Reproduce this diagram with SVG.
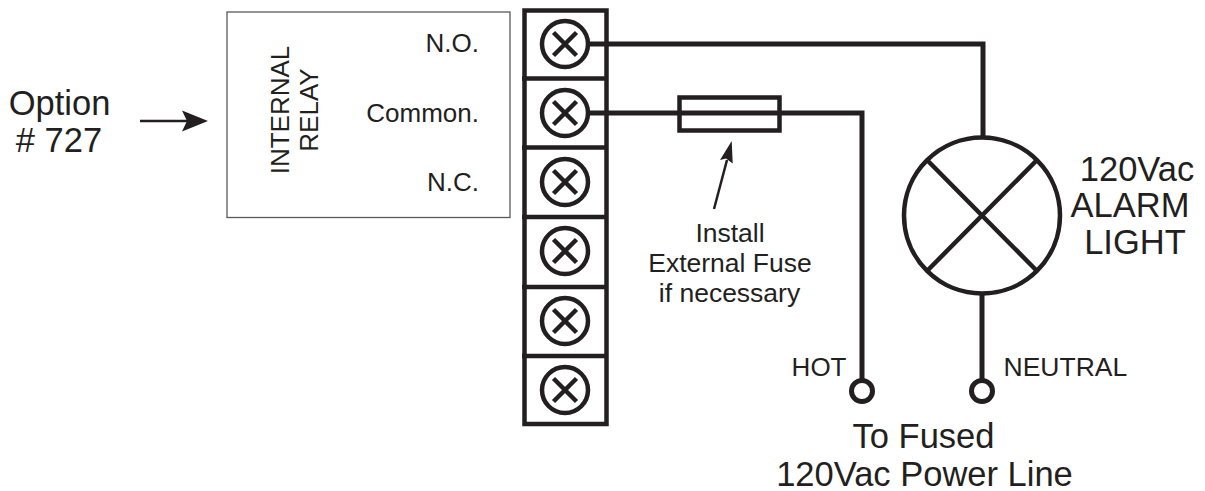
<svg xmlns="http://www.w3.org/2000/svg" width="1205" height="491" viewBox="0 0 1205 491">
<style>
text{font-family:"Liberation Sans",Arial,sans-serif;fill:#231f20}
.s{font-size:26px}.m{font-size:26.500px}.l{font-size:34.500px}
.w{fill:none;stroke:#231f20;stroke-width:5}
.t{fill:none;stroke:#231f20;stroke-width:4.5}
.a{stroke:#231f20;stroke-width:2.5;fill:none}
.h{fill:#231f20}
</style>
<defs>
<g id="screw"><circle r="23" class="t"/><path d="M-11.500-11.500L11.500 11.500M-11.500 11.500L11.500-11.500" class="t"/></g>
</defs>
<rect width="1205" height="491" fill="#fff"/>
<g id="relay">
<rect x="227" y="12" width="283" height="205.500" fill="none" stroke="#58595b" stroke-width="1.300"/>
<text class="s" transform="translate(288.500 110) rotate(-90)" text-anchor="middle">INTERNAL</text>
<text class="s" transform="translate(317.500 110) rotate(-90)" text-anchor="middle">RELAY</text>
<text class="s" x="479" y="51.500" text-anchor="end">N.O.</text>
<text class="s" x="479" y="121.500" text-anchor="end">Common.</text>
<text class="s" x="479" y="191" text-anchor="end">N.C.</text>
</g>
<g id="option">
<text class="l" x="59.500" y="114.500" text-anchor="middle">Option</text>
<text class="l" x="59" y="151.500" text-anchor="middle"># 727</text>
<path class="a" d="M140 121H192"/><path class="h" d="M208 121L182 110.500L187 121L182 131.500Z"/>
</g>
<g id="terminal-block">
<rect x="524.500" y="10.500" width="82" height="413.500" class="t"/>
<path class="t" d="M522 78.500H608M522 147.500H608M522 217H608M522 287H608M522 356H608"/>
<use href="#screw" x="565" y="44"/><use href="#screw" x="565" y="113"/><use href="#screw" x="565" y="182"/>
<use href="#screw" x="565" y="251"/><use href="#screw" x="565" y="321"/><use href="#screw" x="565" y="390"/>
</g>
<g id="connectors">
<path class="w" d="M589 44H983V137"/>
<path class="w" d="M589 113H862V380"/>
<path class="w" d="M982 293V380"/>
</g>
<g id="fuse">
<rect x="679.500" y="97.500" width="100" height="33" class="t"/>
<path class="a" d="M714 209L727 160"/><path class="h" d="M731.700 141L720 160L726 158.500L732.700 163.500Z"/>
<text class="m" x="730" y="242" text-anchor="middle">Install</text>
<text class="m" x="730" y="272" text-anchor="middle">External Fuse</text>
<text class="m" x="729.500" y="301.500" text-anchor="middle">if necessary</text>
</g>
<g id="lamp">
<circle cx="982" cy="215.500" r="78" class="t"/>
<path class="t" d="M928 161L1036 270M1036 161L928 270"/>
<text class="l" x="1137" y="180.500" text-anchor="middle">120Vac</text>
<text class="l" x="1130" y="217" text-anchor="middle">ALARM</text>
<text class="l" x="1135" y="254" text-anchor="middle">LIGHT</text>
</g>
<g id="hot"><circle cx="862" cy="391" r="10.500" fill="#fff" stroke="#231f20" stroke-width="5"/>
<text class="s" x="846.500" y="375.500" text-anchor="end">HOT</text></g>
<g id="neutral"><circle cx="982" cy="391" r="10.500" fill="#fff" stroke="#231f20" stroke-width="5"/>
<text class="m" x="1003.500" y="375.500">NEUTRAL</text></g>
<g id="power-label">
<text class="l" x="923.500" y="448" text-anchor="middle">To Fused</text>
<text class="l" x="924.500" y="485.500" text-anchor="middle">120Vac Power Line</text>
</g>
</svg>
